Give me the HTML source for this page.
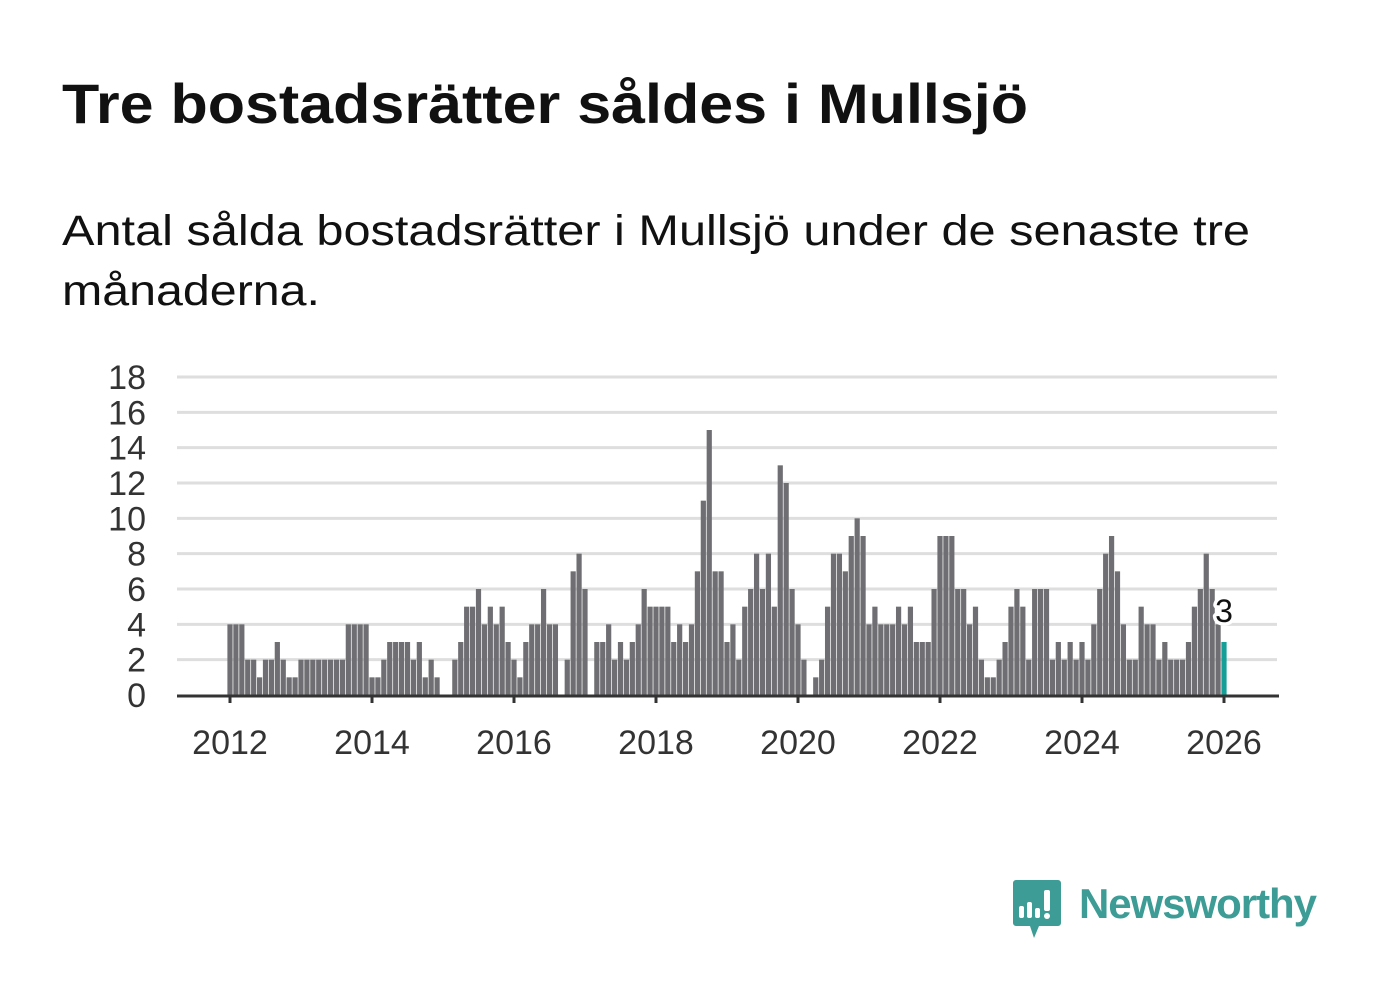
<!DOCTYPE html>
<html><head><meta charset="utf-8">
<style>
body{margin:0;background:#fff;width:1382px;height:999px;overflow:hidden;font-family:"Liberation Sans",sans-serif;}
svg{position:absolute;left:0;top:0;}
</style></head><body>
<svg width="1382" height="330">
  <text x="62" y="123" font-size="56" font-weight="bold" fill="#111" font-family="Liberation Sans, sans-serif" textLength="966" lengthAdjust="spacingAndGlyphs">Tre bostadsrätter såldes i Mullsjö</text>
  <text font-size="43" fill="#111" font-family="Liberation Sans, sans-serif">
    <tspan x="62" y="245" textLength="1188" lengthAdjust="spacingAndGlyphs">Antal sålda bostadsrätter i Mullsjö under de senaste tre</tspan>
    <tspan x="62" y="305" textLength="258" lengthAdjust="spacingAndGlyphs">månaderna.</tspan>
  </text>
</svg>
<svg id="chart" width="1382" height="999"></svg>
<script>
const values = [
4,4,4,2,2,1,2,2,3,2,1,1,
2,2,2,2,2,2,2,2,4,4,4,4,
1,1,2,3,3,3,3,2,3,1,2,1,
0,0,2,3,5,5,6,4,5,4,5,3,
2,1,3,4,4,6,4,4,0,2,7,8,
6,0,3,3,4,2,3,2,3,4,6,5,
5,5,5,3,4,3,4,7,11,15,7,7,
3,4,2,5,6,8,6,8,5,13,12,6,
4,2,0,1,2,5,8,8,7,9,10,9,
4,5,4,4,4,5,4,5,3,3,3,6,
9,9,9,6,6,4,5,2,1,1,2,3,
5,6,5,2,6,6,6,2,3,2,3,2,
3,2,4,6,8,9,7,4,2,2,5,4,
4,2,3,2,2,2,3,5,6,8,6,4,
3];
const startYear = 2012;
const yTicks = [0,2,4,6,8,10,12,14,16,18];
const xTickYears = [2012,2014,2016,2018,2020,2022,2024,2026];

const NS="http://www.w3.org/2000/svg";
const svg=document.getElementById('chart');
const x0=230, x1=1224, yBase=695, yTop=377, left=177, right=1277;
const monthW=(x1-x0)/(14*12);
function xScale(monthIndex){return x0+monthIndex*monthW;}
function yScale(v){return yBase-(v/18)*(yBase-yTop);}
function mk(tag,attrs){const e=document.createElementNS(NS,tag);for(const k in attrs)e.setAttribute(k,attrs[k]);svg.appendChild(e);return e;}

yTicks.forEach(t=>{
  const y=yScale(t);
  if(t>0){const g=mk('line',{x1:left,x2:right,y1:y,y2:y,stroke:'#dedede','stroke-width':3});
  
  }
  const tx=mk('text',{x:146,y:y+12,'text-anchor':'end','font-size':34,fill:'#333','font-family':'Liberation Sans, sans-serif'});
  tx.textContent=t;
  
  
});

values.forEach((v,i)=>{
  const cx=xScale(i);
  const last=i===values.length-1;
  const r=mk('rect',{x:cx-2.6,y:yScale(v),width:5.2,height:yBase-yScale(v),fill:last?'#14a098':'#6f6e73'});
  
  
});

const axis=mk('line',{x1:left,x2:1279,y1:yBase+1,y2:yBase+1,stroke:'#333','stroke-width':3});



xTickYears.forEach(yr=>{
  const x=xScale((yr-startYear)*12);
  const tk=mk('line',{x1:x,x2:x,y1:yBase,y2:yBase+8,stroke:'#333','stroke-width':3});
  
  
  const tx=mk('text',{x:x,y:754,'text-anchor':'middle','font-size':34,fill:'#333','font-family':'Liberation Sans, sans-serif'});
  tx.textContent=yr;
  
  
});

const li=values.length-1;
const lbl=mk('text',{x:xScale(li),y:yScale(values[li])-20,'text-anchor':'middle','font-size':32,fill:'#111',stroke:'#fff','stroke-width':7,'stroke-linejoin':'round','paint-order':'stroke','font-family':'Liberation Sans, sans-serif'});
lbl.textContent=values[li];


</script>
<svg width="1382" height="999" style="position:absolute;left:0;top:0;">
  <path d="M1016 880 h42 a3 3 0 0 1 3 3 v40 a3 3 0 0 1 -3 3 h-19 l-5 12 l-4 -12 h-14 a3 3 0 0 1 -3 -3 v-40 a3 3 0 0 1 3 -3z" fill="#3d9c95"/>
  <rect x="1019" y="906" width="5" height="12" rx="2" fill="#fff"/>
  <rect x="1027" y="902" width="5" height="16" rx="2" fill="#fff"/>
  <rect x="1035" y="908" width="5" height="10" rx="2" fill="#fff"/>
  <rect x="1044" y="890" width="6" height="21" rx="2" fill="#fff"/>
  <circle cx="1047" cy="916" r="3" fill="#fff"/>
  <text x="1079" y="918" font-size="42" font-weight="bold" fill="#3d9c95" font-family="Liberation Sans, sans-serif" textLength="238">Newsworthy</text>
</svg>
</body></html>
